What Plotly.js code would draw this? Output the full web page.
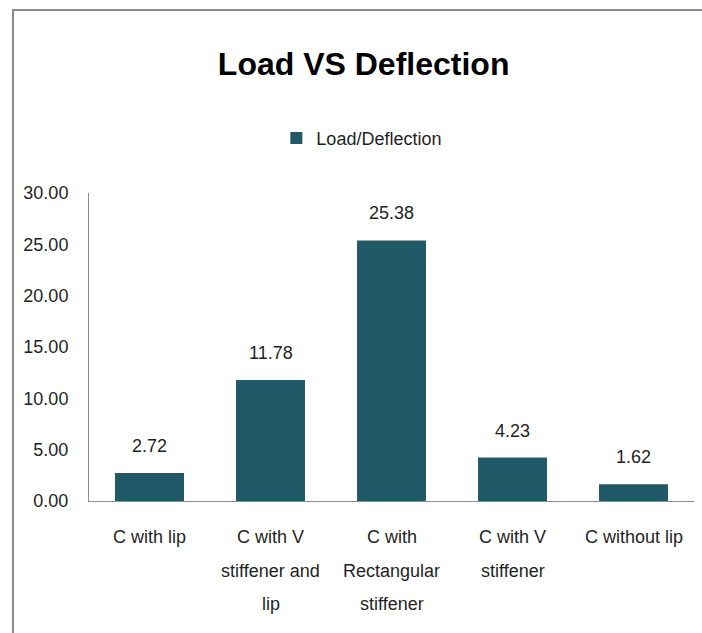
<!DOCTYPE html>
<html>
<head>
<meta charset="utf-8">
<script src="https://cdn.plot.ly/plotly-3.0.1.min.js"></script>
<style>
html,body{margin:0;padding:0;background:#fff;}
#chart{width:702px;height:633px;}
</style>
</head>
<body>
<div id="chart"></div>
<script>
const categories = ["C with lip", "C with V stiffener and lip", "C with Rectangular stiffener", "C with V stiffener", "C without lip"];
const tickLines = [
  ["C with lip"],
  ["C with V", "stiffener and", "lip"],
  ["C with", "Rectangular", "stiffener"],
  ["C with V", "stiffener"],
  ["C without lip"]
];
const values = [2.72, 11.78, 25.38, 4.23, 1.62];
const seriesName = "Load/Deflection";
const yTicks = [0, 5, 10, 15, 20, 25, 30];

const FONT = "'Liberation Sans', Arial, sans-serif";
const TXT = "#1f1f1f";

const trace = {
  type: "bar",
  x: categories,
  y: values,
  name: seriesName,
  marker: {color: "#215968"},
  showlegend: true,
  hoverinfo: "none"
};

const annotations = categories.map((c, i) => ({
  x: c, y: values[i], xref: "x", yref: "y",
  text: values[i].toFixed(2),
  showarrow: false, yanchor: "bottom", yshift: 15,
  font: {family: FONT, size: 18, color: TXT}
}));

tickLines.forEach((lines, i) => {
  lines.forEach((line, k) => {
    annotations.push({
      x: categories[i], y: 0, xref: "x", yref: "paper",
      text: line, showarrow: false, yanchor: "middle",
      yshift: -(36 + k * 33.5),
      font: {family: FONT, size: 18, color: TXT}
    });
  });
});

const bx = (13 - 89) / 605, by = (501 - 10) / 308, bxr = (702 - 89) / 605, bb = -(633 - 501 + 20) / 308;

const layout = {
  width: 702, height: 633,
  margin: {l: 89, r: 8, t: 193, b: 132},
  paper_bgcolor: "#fff", plot_bgcolor: "#fff",
  font: {family: FONT, color: TXT},
  title: {
    text: "<b>Load VS Deflection</b>",
    font: {family: FONT, size: 32, color: "#000"},
    xref: "container", x: 0.518, xanchor: "center",
    yref: "container", y: 0.9, yanchor: "middle"
  },
  showlegend: true,
  legend: {
    orientation: "h", xref: "paper", x: 0.451, xanchor: "center",
    yref: "paper", y: 1.178, yanchor: "middle",
    font: {family: FONT, size: 18, color: TXT},
    itemwidth: 20
  },
  bargap: 0.43,
  xaxis: {
    type: "category",
    showline: true, linecolor: "#8c8c8c", linewidth: 1,
    showgrid: false, ticks: "", zeroline: false,
    showticklabels: false
  },
  yaxis: {
    range: [0, 30], tickvals: yTicks, ticktext: yTicks.map(v => v.toFixed(2)),
    showline: true, linecolor: "#8c8c8c", linewidth: 1,
    showgrid: false, ticks: "", zeroline: false,
    tickfont: {family: FONT, size: 18, color: TXT},
    ticklabelstandoff: 16
  },
  annotations: annotations,
  shapes: [{
    type: "path", xref: "paper", yref: "paper",
    path: "M " + bx + " " + bb + " L " + bx + " " + by + " L " + bxr + " " + by,
    line: {color: "#8a8a8a", width: 2}
  }]
};

Plotly.newPlot("chart", [trace], layout, {staticPlot: true, displayModeBar: false});
</script>
</body>
</html>
